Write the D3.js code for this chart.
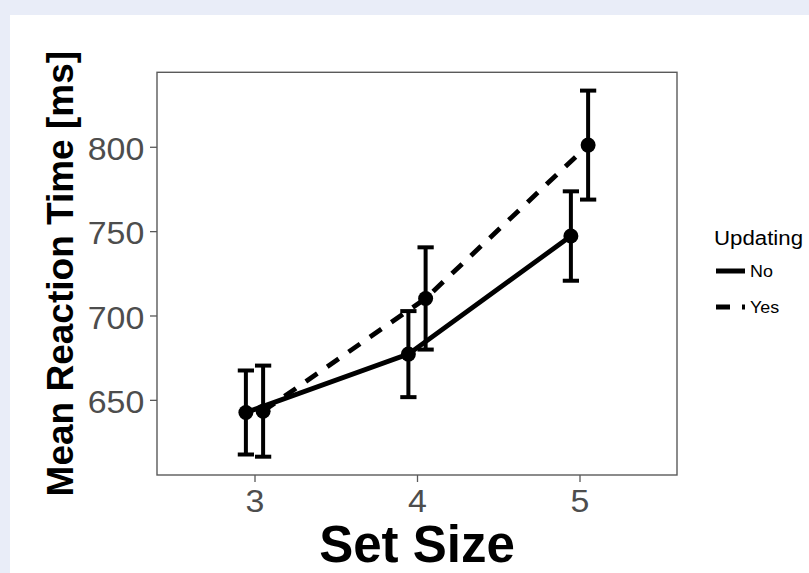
<!DOCTYPE html>
<html>
<head>
<meta charset="utf-8">
<script src="https://cdn.jsdelivr.net/npm/d3@7"></script>
<style>
  html, body { margin: 0; padding: 0; background: #e9edf8; }
  svg { display: block; }
  text { font-family: "Liberation Sans", Arial, sans-serif; }
</style>
</head>
<body>
<svg id="chart" width="809" height="573"></svg>
<script>
// Set sizes on the x axis and the two updating conditions
const setSizes = [3, 4, 5];
const setSizeLabels = ["3", "4", "5"];
const conditions = ["No", "Yes"];

// Mean reaction time (ms) and half-width of the error bars per condition
const meanNo  = [642.5, 677.1, 747.1];
const errNo   = [24.9, 25.5, 26.5];
const meanYes = [643.3, 710.1, 801.0];
const errYes  = [27.0, 30.3, 32.3];

const yTicks = [650, 700, 750, 800];

const W = 809, H = 573;
const panel = { left: 157, right: 677, top: 72.3, bottom: 475 };
const dodge = 0.053;      // horizontal offset of each condition from its set size
const capHalf = 0.05;     // half-width of the error bar caps, in x units

const svg = d3.select("#chart");

// white plot background inside the lavender frame
svg.append("rect")
  .attr("x", 10).attr("y", 15)
  .attr("width", W - 10).attr("height", H - 15)
  .attr("fill", "#ffffff");

// discrete-style x scale with 0.6 units of padding on each side
const x = d3.scaleLinear()
  .domain([d3.min(setSizes) - 0.6, d3.max(setSizes) + 0.6])
  .range([panel.left, panel.right]);

const allLo = meanNo.map((m, i) => m - errNo[i]).concat(meanYes.map((m, i) => m - errYes[i]));
const allHi = meanNo.map((m, i) => m + errNo[i]).concat(meanYes.map((m, i) => m + errYes[i]));
const lo = d3.min(allLo), hi = d3.max(allHi);
const pad = (hi - lo) * 0.05;
const y = d3.scaleLinear()
  .domain([lo - pad, hi + pad])
  .range([panel.bottom, panel.top]);

const series = [
  { name: conditions[0], mean: meanNo,  err: errNo,  off: -dodge, dash: null },
  { name: conditions[1], mean: meanYes, err: errYes, off:  dodge, dash: "14,12" }
];

// axes
const tickColor = "#4d4d4d";
const gx = svg.append("g")
  .attr("transform", `translate(0,${panel.bottom})`)
  .call(d3.axisBottom(x).tickValues(setSizes)
    .tickFormat((d, i) => setSizeLabels[i]).tickSize(7).tickPadding(7));
gx.select(".domain").remove();
gx.selectAll(".tick line").attr("stroke", "#595959").attr("stroke-width", 1.3);
gx.selectAll(".tick text")
  .attr("fill", tickColor).attr("font-size", 32)
  .attr("transform", "scale(1.06,1)");

const gy = svg.append("g")
  .attr("transform", `translate(${panel.left},0)`)
  .call(d3.axisLeft(y).tickValues(yTicks).tickSize(7).tickPadding(5));
gy.select(".domain").remove();
gy.selectAll(".tick line").attr("stroke", "#595959").attr("stroke-width", 1.3);
gy.selectAll(".tick text")
  .attr("fill", tickColor).attr("font-size", 32).attr("dy", "0.4em")
  .attr("transform", "scale(1.06,1)");

// panel border
svg.append("rect")
  .attr("x", panel.left).attr("y", panel.top)
  .attr("width", panel.right - panel.left).attr("height", panel.bottom - panel.top)
  .attr("fill", "none").attr("stroke", "#5a5a5a").attr("stroke-width", 1.4);

// connecting lines
const line = d3.line()
  .x(d => x(d.s + d.off))
  .y(d => y(d.m));

series.forEach(s => {
  const pts = setSizes.map((v, i) => ({ s: v, off: s.off, m: s.mean[i] }));
  svg.append("path")
    .datum(pts)
    .attr("d", line)
    .attr("fill", "none")
    .attr("stroke", "#000")
    .attr("stroke-width", 4.8)
    .attr("stroke-dasharray", s.dash);
});

// error bars and points
series.forEach(s => {
  const g = svg.append("g");
  setSizes.forEach((v, i) => {
    const cx = v + s.off;
    const top = s.mean[i] + s.err[i], bot = s.mean[i] - s.err[i];
    g.append("line")
      .attr("x1", x(cx)).attr("x2", x(cx))
      .attr("y1", y(top)).attr("y2", y(bot))
      .attr("stroke", "#000").attr("stroke-width", 4);
    [top, bot].forEach(e => {
      g.append("line")
        .attr("x1", x(cx - capHalf)).attr("x2", x(cx + capHalf))
        .attr("y1", y(e)).attr("y2", y(e))
        .attr("stroke", "#000").attr("stroke-width", 4);
    });
    g.append("circle")
      .attr("cx", x(cx)).attr("cy", y(s.mean[i]))
      .attr("r", 7.5).attr("fill", "#000");
  });
});

// axis titles
svg.append("text")
  .attr("x", (panel.left + panel.right) / 2)
  .attr("y", 562)
  .attr("text-anchor", "middle")
  .attr("font-size", 51).attr("font-weight", "bold").attr("fill", "#000")
  .text("Set Size");

svg.append("text")
  .attr("transform", `translate(73,${(panel.top + panel.bottom) / 2}) rotate(-90)`)
  .attr("text-anchor", "middle")
  .attr("font-size", 37).attr("font-weight", "bold").attr("fill", "#000")
  .text("Mean Reaction Time [ms]");

// legend
const lg = svg.append("g").attr("transform", "translate(714,0)");
lg.append("text")
  .attr("x", 0).attr("y", 245)
  .attr("font-size", 21).attr("fill", "#000")
  .attr("transform", "scale(1.06,1)")
  .text("Updating");

const keyY = [271, 307];
series.forEach((s, i) => {
  lg.append("line")
    .attr("x1", 2).attr("x2", 31)
    .attr("y1", keyY[i]).attr("y2", keyY[i])
    .attr("stroke", "#000").attr("stroke-width", 5)
    .attr("stroke-dasharray", s.dash);
  lg.append("text")
    .attr("x", 36 / 1.12).attr("y", keyY[i] + 6)
    .attr("font-size", 16).attr("fill", "#000")
    .attr("transform", "scale(1.12,1)")
    .text(s.name);
});
</script>
</body>
</html>
